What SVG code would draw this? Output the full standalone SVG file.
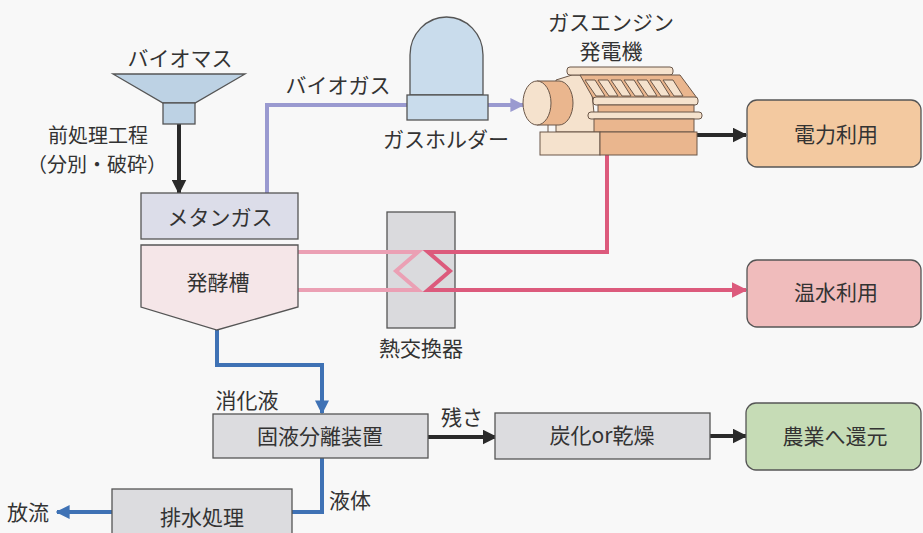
<svg xmlns="http://www.w3.org/2000/svg" width="923" height="533" viewBox="0 0 923 533">
  <defs>
    <marker id="ah-black" viewBox="0 0 10 10" refX="9" refY="5" markerUnits="userSpaceOnUse" markerWidth="15" markerHeight="15" orient="auto">
      <path d="M0,0 L10,5 L0,10 z" fill="#2a2a2a"/>
    </marker>
    <marker id="ah-blue" viewBox="0 0 10 10" refX="9" refY="5" markerUnits="userSpaceOnUse" markerWidth="14" markerHeight="14" orient="auto">
      <path d="M0,0 L10,5 L0,10 z" fill="#3f72b5"/>
    </marker>
    <marker id="ah-purple" viewBox="0 0 10 10" refX="9" refY="5" markerUnits="userSpaceOnUse" markerWidth="14" markerHeight="14" orient="auto">
      <path d="M0,0 L10,5 L0,10 z" fill="#9a9ad0"/>
    </marker>
    <marker id="ah-red" viewBox="0 0 10 10" refX="9" refY="5" markerUnits="userSpaceOnUse" markerWidth="16" markerHeight="16" orient="auto">
      <path d="M0,0 L10,5 L0,10 z" fill="#dc5a7c"/>
    </marker>
  </defs>
  <style>
    text { font-family: "Noto Sans CJK JP", "Noto Sans", sans-serif; font-size: 21px; fill: #333; text-anchor: middle; }
    .small { font-size: 20px; }
    .box { stroke: #555; stroke-width: 1.3; }
    .grey { fill: #dcdcdf; }
    .eng { stroke: #6a5648; stroke-width: 1; }
    .eng-lt { fill: #f5e2cd; }
    .eng-dk { fill: #eab68e; }
    .k { fill: none; stroke: #2a2a2a; stroke-width: 4; }
    .b { fill: none; stroke: #3f72b5; stroke-width: 4; }
    .p { fill: none; stroke: #9a9ad0; stroke-width: 4; }
    .r { fill: none; stroke: #dc5a7c; stroke-width: 4; }
    .rl { fill: none; stroke: #eba0b4; stroke-width: 4; }
  </style>

  <rect x="0" y="0" width="923" height="533" fill="#f8f8f8"/>

  <!-- heat exchanger body (drawn first so the pipes pass over it) -->
  <g id="heat-exchanger">
    <rect class="box" x="387" y="212" width="68" height="116" fill="#dadadd"/>
    <text x="421" y="356">熱交換器</text>
  </g>

  <g id="connectors">
    <!-- biomass into methane stage -->
    <line class="k" x1="179" y1="124" x2="179" y2="193" marker-end="url(#ah-black)"/>
    <!-- biogas line -->
    <polyline class="p" points="267,193 267,105 407,105"/>
    <line class="p" x1="488" y1="105" x2="523" y2="105" marker-end="url(#ah-purple)"/>
    <!-- engine to electricity -->
    <line class="k" x1="697" y1="135" x2="746" y2="135" marker-end="url(#ah-black)"/>
    <!-- heating loop, digester side -->
    <polyline class="rl" points="298,252 418,252 396,271 418,290 298,290"/>
    <!-- heating loop, engine side -->
    <polyline class="r" points="607,155 607,252 428,252 450,271 428,290 612,290"/>
    <line class="r" x1="610" y1="290" x2="746" y2="290" marker-end="url(#ah-red)"/>
    <!-- digestate -->
    <polyline class="b" points="217,330 217,365 322,365 322,413" marker-end="url(#ah-blue)"/>
    <!-- residue -->
    <line class="k" x1="428" y1="437" x2="496" y2="437" marker-end="url(#ah-black)"/>
    <line class="k" x1="710" y1="436" x2="746" y2="436" marker-end="url(#ah-black)"/>
    <!-- liquid -->
    <polyline class="b" points="322,458 322,512 292,512"/>
    <line class="b" x1="112" y1="512" x2="57" y2="512" marker-end="url(#ah-blue)"/>
  </g>

  <g id="biomass">
    <polygon class="box" points="113,74 245,74 195,103 163,103" fill="#bdd2e4"/>
    <rect class="box" x="163" y="103" width="32" height="21" fill="#bdd2e4"/>
    <text x="180" y="66">バイオマス</text>
  </g>

  <g id="pretreatment-label">
    <text class="small" x="98" y="143">前処理工程</text>
    <text class="small" x="97" y="172">（分別・破砕）</text>
  </g>

  <g id="methane">
    <rect class="box" x="141" y="193" width="157" height="46" fill="#dcdde9"/>
    <text x="220" y="225">メタンガス</text>
  </g>

  <g id="digester">
    <polygon class="box" points="141,245 298,245 298,307 217,330 141,307" fill="#f5e6e8"/>
    <text x="218" y="290">発酵槽</text>
  </g>

  <g id="biogas-label">
    <text x="338" y="93">バイオガス</text>
  </g>

  <g id="gas-holder">
    <path class="box" d="M410,95 V55 A36.5,38 0 0 1 483,55 V95 Z" fill="#c9dcec"/>
    <rect class="box" x="407" y="95" width="81" height="25" fill="#c9dcec"/>
    <text x="446" y="147">ガスホルダー</text>
  </g>

  <g id="gas-engine">
    <text x="611" y="30">ガスエンジン</text>
    <text x="611" y="59">発電機</text>
    <!-- rear block -->
    <polygon class="eng eng-lt" points="556,132 556,80 572,75 590,75 596,132"/>
    <!-- top rail -->
    <rect class="eng eng-lt" x="567" y="67" width="106" height="8" rx="3"/>
    <!-- cylinder bank -->
    <polygon class="eng eng-dk" points="580,75 680,75 697,98 593,98"/>
    <g class="eng eng-lt">
      <polygon points="585,80 595,80 605,96 596,96"/>
      <polygon points="598,80 608,80 618,96 609,96"/>
      <polygon points="611,80 621,80 631,96 622,96"/>
      <polygon points="624,80 634,80 644,96 635,96"/>
      <polygon points="637,80 647,80 657,96 648,96"/>
      <polygon points="650,80 660,80 670,96 661,96"/>
      <polygon points="663,80 673,80 683,96 674,96"/>
    </g>
    <rect class="eng eng-lt" x="593" y="97" width="105" height="8" rx="3"/>
    <rect class="eng eng-dk" x="598" y="105" width="96" height="8"/>
    <rect class="eng eng-lt" x="588" y="112" width="114" height="7" rx="3"/>
    <rect class="eng eng-dk" x="594" y="119" width="100" height="13"/>
    <!-- base -->
    <rect class="eng eng-lt" x="540" y="132" width="60" height="23"/>
    <rect class="eng eng-dk" x="600" y="132" width="97" height="23"/>
    <!-- flywheel housing -->
    <line class="eng" x1="548" y1="124" x2="548" y2="132"/>
    <path class="eng eng-dk" d="M537,81 H559 A14,22 0 0 1 559,125 H537 Z"/>
    <ellipse class="eng eng-lt" cx="537" cy="103" rx="14" ry="22"/>
  </g>

  <g id="power-use">
    <rect class="box" x="747" y="100" width="174" height="67" rx="10" fill="#f3c9a0"/>
    <text x="836" y="142">電力利用</text>
  </g>

  <g id="hot-water-use">
    <rect class="box" x="747" y="260" width="174" height="67" rx="10" fill="#f0bcbc"/>
    <text x="836" y="300">温水利用</text>
  </g>

  <g id="digestate-label">
    <text x="247" y="408">消化液</text>
  </g>

  <g id="separator">
    <rect class="box grey" x="213" y="414" width="215" height="44"/>
    <text x="320" y="444">固液分離装置</text>
  </g>

  <g id="residue-label">
    <text x="462" y="425">残さ</text>
  </g>

  <g id="carbonize">
    <rect class="box grey" x="495" y="413" width="215" height="46"/>
    <text x="602" y="443">炭化or乾燥</text>
  </g>

  <g id="agriculture">
    <rect class="box" x="746" y="403" width="175" height="67" rx="10" fill="#c6dcb6"/>
    <text x="835" y="444">農業へ還元</text>
  </g>

  <g id="liquid-label">
    <text x="350" y="508">液体</text>
  </g>

  <g id="wastewater">
    <rect class="box grey" x="112" y="489" width="180" height="50"/>
    <text x="202" y="525">排水処理</text>
  </g>

  <g id="discharge-label">
    <text x="28" y="520">放流</text>
  </g>
</svg>
